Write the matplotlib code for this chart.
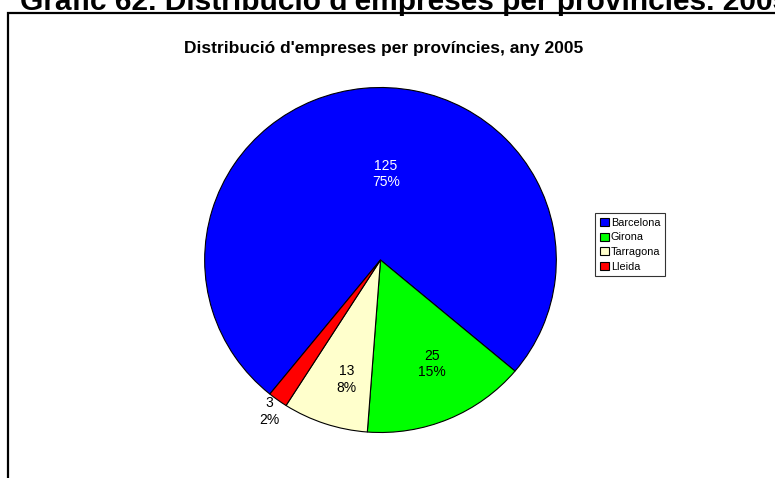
import numpy as np
import matplotlib
matplotlib.use("Agg")
import matplotlib.pyplot as plt
from matplotlib.patches import Rectangle

plt.rcParams['font.family'] = ['Liberation Sans', 'DejaVu Sans']

# data
provinces = ['Barcelona', 'Girona', 'Tarragona', 'Lleida']
companies = [125, 25, 13, 3]
colors = ['#0000FF', '#00FF00', '#FFFFCC', '#FF0000']
label_colors = ['white', 'black', 'black', 'black']
# label placement (radius fraction, angle nudge in degrees)
label_dist = [0.5, 0.67, 0.72, 1.08]
label_shift = [-9, 3, 3, 0]

fig = plt.figure(figsize=(7.75, 4.78), dpi=100)

# outer frame (left + top edges visible)
fig.patches.append(Rectangle((8 / 775, -0.2), 1.2, 1 - 12.5 / 478 + 0.2,
                             transform=fig.transFigure, fill=False,
                             edgecolor='black', linewidth=1.6))

fig.text(20 / 775, 1 - 9.5 / 478,
         "Gràfic 62. Distribució d'empreses per províncies. 2005",
         fontsize=21.5, fontweight='bold', va='baseline', ha='left')
fig.text(384 / 775, 1 - 48 / 478,
         "Distribució d'empreses per províncies, any 2005",
         fontsize=12.5, fontweight='bold', va='center', ha='center')

ax = fig.add_axes([169.5 / 775, 11 / 478, 422 / 775, 414 / 478])
wedges, _ = ax.pie(companies, colors=colors, startangle=231, counterclock=False,
                   wedgeprops=dict(edgecolor='black', linewidth=0.8))
ax.set_xlim(-1.2, 1.2)
ax.set_ylim(-1.2, 1.2)
ax.set_aspect('auto')
ax.axis('off')

total = sum(companies)
for w, v, c, d, s in zip(wedges, companies, label_colors, label_dist, label_shift):
    mid = np.deg2rad((w.theta1 + w.theta2) / 2 + s)
    ax.text(d * np.cos(mid), d * np.sin(mid), f"{v}\n{round(100 * v / total)}%",
            ha='center', va='center', fontsize=10, color=c, linespacing=1.25)

leg = fig.legend(wedges, provinces, loc='upper left',
                 bbox_to_anchor=(595 / 775, 1 - 213 / 478), borderaxespad=0,
                 fontsize=7.8, handlelength=0.8, handleheight=0.8,
                 handletextpad=0.2, borderpad=0.45, labelspacing=0.42,
                 fancybox=False, frameon=True)
leg.get_frame().set_edgecolor('black')
leg.get_frame().set_linewidth(0.8)

fig.savefig('out.png', dpi=100)
